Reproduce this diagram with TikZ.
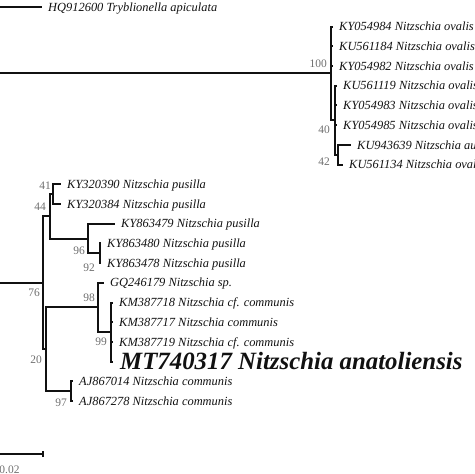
\documentclass[tikz,border=0pt]{standalone}
\usepackage{fontspec}
\setmainfont{Liberation Serif}
\usepackage{xcolor}
\definecolor{cTree}{HTML}{111111}
\definecolor{cBoot}{HTML}{6E6E6E}
\usepackage{tikz}
\usetikzlibrary{positioning}
\tikzset{
  tree-branch/.style={draw=cTree,line width=0.6mm,line join=miter},
  leaf-label/.style={anchor=west,inner xsep=1.8mm,inner ysep=0pt,
    text height=2.5mm,text depth=0pt,text=cTree,
    font=\fontsize{10.6pt}{12pt}\selectfont\itshape},
  leaf-new/.style={leaf-label,inner xsep=2.1mm,text height=5mm,
    font=\fontsize{21.2pt}{24pt}\selectfont\bfseries\itshape},
  boot-label/.style={anchor=east,inner sep=0pt,text height=2.3mm,
    text depth=0pt,text=cBoot,font=\fontsize{9.8pt}{11pt}\selectfont},
}

\begin{document}
\begin{tikzpicture}[x=0.3mm,y=-0.3mm]
  \useasboundingbox (0,0) rectangle (474,474);
  \clip (0,0) rectangle (474,474);
  % internal nodes
  \coordinate (root) at (-20,140);
  \coordinate (A) at (331,73.5);
  \coordinate (B) at (335,120.3);
  \coordinate (C) at (338,154.75);
  \coordinate (L) at (43,282.9);
  \coordinate (P) at (50,216.35);
  \coordinate (R) at (53,194.15);
  \coordinate (S) at (88,238.5);
  \coordinate (T) at (100,253.25);
  \coordinate (Q) at (46,349.3);
  \coordinate (U) at (98,307.4);
  \coordinate (W) at (111,332.05);
  \coordinate (V) at (71,391.15);
  % leaves
  \foreach \name/\x/\y/\taxon in {HQ912600/42/7/Tryblionella apiculata,
      KY054984/333/26.7/Nitzschia ovalis, KU561184/333/46.4/Nitzschia ovalis,
      KY054982/333/66.1/Nitzschia ovalis, KU561119/337/85.8/Nitzschia ovalis,
      KY054983/337/105.5/Nitzschia ovalis, KY054985/337/125.2/Nitzschia ovalis,
      KU943639/351/144.9/Nitzschia aurariae, KU561134/343/164.6/Nitzschia ovalis,
      KY320390/61/184.3/Nitzschia pusilla, KY320384/61/204/Nitzschia pusilla,
      KY863479/115/223.7/Nitzschia pusilla, KY863480/101/243.4/Nitzschia pusilla,
      KY863478/101/263.1/Nitzschia pusilla, GQ246179/104/282.8/Nitzschia sp.,
      KM387718/113/302.5/Nitzschia cf. communis, KM387717/113/322.2/Nitzschia communis,
      KM387719/113/341.9/Nitzschia cf. communis,
      AJ867014/73/381.3/Nitzschia communis, AJ867278/73/401/Nitzschia communis}
    \node[leaf-label] (\name) at (\x,\y) {\name\ \taxon};
  \node[leaf-new] (MT740317) at (113,361.6) {MT740317 Nitzschia anatoliensis};
  % branches
  \foreach \up/\kids in {root/{HQ912600,A,L},
      A/{KY054984,KU561184,KY054982,B}, B/{KU561119,KY054983,KY054985,C},
      C/{KU943639,KU561134}, L/{P,Q}, P/{R,S}, R/{KY320390,KY320384},
      S/{KY863479,T}, T/{KY863480,KY863478}, Q/{U,V}, U/{GQ246179,W},
      W/{KM387718,KM387717,KM387719,MT740317}, V/{AJ867014,AJ867278}}
    \foreach \kid in \kids
      \draw[tree-branch] (\up) |- (\kid);
  % bootstrap values
  \foreach \name/\x/\y/\val in {A/327/64/100, B/330/130/40, C/330/162/42,
      R/51/186/41, P/46/207/44, S/85/251/96, T/95/268/92, L/40/293/76,
      U/95/298/98, W/107/342/99, Q/42/360/20, V/67/403/97}
    \node[boot-label] (bs-\name) at (\x,\y) {\val};
  % scale bar
  \coordinate (bar-l) at (-24.5,454);
  \coordinate (bar-r) at (43,454);
  \draw[tree-branch] (bar-l) -- (bar-r);
  \draw[tree-branch,line width=0.4mm] ([yshift=-0.9mm]bar-r) -- ([yshift=0.9mm]bar-r);
  \node[boot-label,anchor=center] (bar-lbl) at (9.5,470) {0.02};
\end{tikzpicture}
\end{document}
